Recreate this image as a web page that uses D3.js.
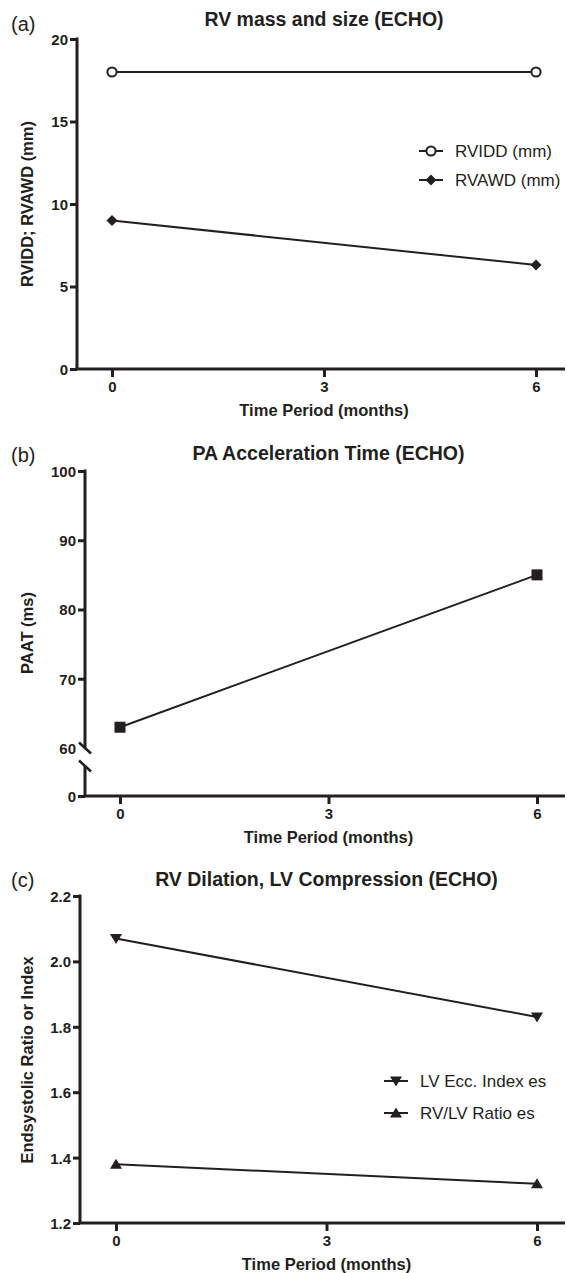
<!DOCTYPE html>
<html>
<head>
<meta charset="utf-8">
<script src="https://cdn.jsdelivr.net/npm/d3@7"></script>
<style>
  html, body { margin: 0; padding: 0; background: #fff; }
  svg { display: block; font-family: "Liberation Sans", Arial, Helvetica, sans-serif; }
</style>
</head>
<body>
<svg id="chart" width="567" height="1273"></svg>
<script>
// ---------- DATA ----------
const months = [0, 6];
const xTicks = [0, 3, 6];

// Panel (a)
const rviddValues = [18, 18];
const rvawdValues = [9.0, 6.3];
const aYTicks = [0, 5, 10, 15, 20];

// Panel (b)
const paatValues = [63, 85];
const bYTicks = [0, 60, 70, 80, 90, 100];

// Panel (c)
const lvEccValues = [2.07, 1.83];
const rvlvValues = [1.38, 1.32];
const cYTicks = [1.2, 1.4, 1.6, 1.8, 2.0, 2.2];

// ---------- STYLE ----------
const INK = "#231f20";
const svg = d3.select("#chart");

// marker shape generators (relative to point)
function marker(g, type, x, y) {
  if (type === "circle") {
    g.append("circle").attr("cx", x).attr("cy", y).attr("r", 4.6)
      .attr("fill", "#fff").attr("stroke", INK).attr("stroke-width", 2);
  } else if (type === "diamond") {
    const s = 5.5;
    g.append("path").attr("d", `M${x},${y - s}L${x + s},${y}L${x},${y + s}L${x - s},${y}Z`).attr("fill", INK);
  } else if (type === "square") {
    const s = 5.5;
    g.append("rect").attr("x", x - s).attr("y", y - s).attr("width", 2 * s).attr("height", 2 * s).attr("fill", INK);
  } else if (type === "tri-down") {
    g.append("path").attr("d", `M${x - 6},${y - 4.5}L${x + 6},${y - 4.5}L${x},${y + 5.5}Z`).attr("fill", INK);
  } else if (type === "tri-up") {
    g.append("path").attr("d", `M${x - 6},${y + 4.5}L${x + 6},${y + 4.5}L${x},${y - 5.5}Z`).attr("fill", INK);
  }
}

function panel(cfg) {
  const g = svg.append("g");
  const x = d3.scaleLinear().domain([0, 6]).range([cfg.x0, cfg.x6]);
  const y = cfg.y;
  const axisY = cfg.axisBottom;

  // panel letter
  g.append("text").attr("x", 11).attr("y", cfg.letterY).attr("font-size", 20).attr("fill", INK).text(cfg.letter);
  // title
  g.append("text").attr("x", x(3)).attr("y", cfg.titleY).attr("text-anchor", "middle")
    .attr("font-size", 19.5).attr("font-weight", "bold").attr("fill", INK).text(cfg.title);

  // x axis
  const xAxis = d3.axisBottom(x).tickValues(xTicks).tickSize(8).tickPadding(4).tickFormat(d3.format("d"));
  const gx = g.append("g").attr("transform", `translate(0,${axisY})`).call(xAxis);
  gx.select(".domain").remove();
  gx.selectAll(".tick line").attr("stroke", INK).attr("stroke-width", 3);
  gx.selectAll(".tick text").attr("font-size", 15).attr("font-weight", "bold").attr("fill", INK).attr("font-family", "Liberation Sans, Arial, sans-serif");
  g.append("line").attr("x1", cfg.left - 1.5).attr("x2", 565).attr("y1", axisY).attr("y2", axisY)
    .attr("stroke", INK).attr("stroke-width", 3);

  // y axis
  const yAxis = d3.axisLeft(y).tickValues(cfg.yTicks).tickSize(7).tickPadding(2).tickFormat(cfg.yFormat);
  const gy = g.append("g").attr("transform", `translate(${cfg.left},0)`).call(yAxis);
  gy.select(".domain").remove();
  gy.selectAll(".tick line").attr("stroke", INK).attr("stroke-width", 3);
  gy.selectAll(".tick text").attr("font-size", 15).attr("font-weight", "bold").attr("fill", INK).attr("dy", "0.36em").attr("font-family", "Liberation Sans, Arial, sans-serif");
  if (cfg.hideTick) gy.selectAll(".tick").filter(d => cfg.hideTick.includes(d)).select("line").remove();

  const yTop = y(cfg.yTicks[cfg.yTicks.length - 1]);
  if (cfg.brk) {
    g.append("line").attr("x1", cfg.left).attr("x2", cfg.left).attr("y1", yTop - 1.5).attr("y2", cfg.brk[0])
      .attr("stroke", INK).attr("stroke-width", 3);
    g.append("line").attr("x1", cfg.left).attr("x2", cfg.left).attr("y1", cfg.brk[1]).attr("y2", axisY)
      .attr("stroke", INK).attr("stroke-width", 3);
    [cfg.brk[0], cfg.brk[1]].forEach(cy => {
      g.append("line").attr("x1", cfg.left - 6).attr("y1", cy - 5.5).attr("x2", cfg.left + 6).attr("y2", cy + 5.5)
        .attr("stroke", INK).attr("stroke-width", 2.6);
    });
  } else {
    g.append("line").attr("x1", cfg.left).attr("x2", cfg.left).attr("y1", yTop - 1.5).attr("y2", axisY)
      .attr("stroke", INK).attr("stroke-width", 3);
  }

  // axis titles
  g.append("text").attr("x", x(3)).attr("y", axisY + 47).attr("text-anchor", "middle")
    .attr("font-size", 16.5).attr("font-weight", "bold").attr("fill", INK).text("Time Period (months)");
  g.append("text").attr("transform", `translate(33,${cfg.yLabelCenter}) rotate(-90)`).attr("text-anchor", "middle")
    .attr("font-size", 16.5).attr("font-weight", "bold").attr("fill", INK).text(cfg.yLabel);

  // series
  const line = d3.line().x((d, i) => x(months[i])).y(d => y(d));
  cfg.series.forEach(s => {
    g.append("path").datum(s.values).attr("d", line).attr("fill", "none")
      .attr("stroke", INK).attr("stroke-width", 2);
    s.values.forEach((v, i) => marker(g, s.marker, x(months[i]), y(v)));
  });

  // legend
  if (cfg.legend) {
    const L = cfg.legend;
    cfg.series.forEach((s, i) => {
      const cy = L.y0 + i * L.dy;
      g.append("line").attr("x1", L.x - 12).attr("x2", L.x + 12).attr("y1", cy).attr("y2", cy)
        .attr("stroke", INK).attr("stroke-width", 2);
      marker(g, s.marker, L.x, cy);
      g.append("text").attr("x", L.tx).attr("y", cy + 6).attr("font-size", 17).attr("fill", INK).text(s.name);
    });
  }
}

// Panel (a)
panel({
  letter: "(a)", letterY: 31, title: "RV mass and size (ECHO)", titleY: 26,
  left: 77, x0: 112, x6: 536, axisBottom: 369,
  y: d3.scaleLinear().domain([0, 20]).range([369, 39]),
  yTicks: aYTicks, yFormat: d3.format("d"),
  yLabel: "RVIDD; RVAWD (mm)", yLabelCenter: 204,
  series: [
    { name: "RVIDD (mm)", values: rviddValues, marker: "circle" },
    { name: "RVAWD (mm)", values: rvawdValues, marker: "diamond" }
  ],
  legend: { x: 431, tx: 455, y0: 151, dy: 29 }
});

// Panel (b) — broken axis: 0 at baseline, 60–100 above break
panel({
  letter: "(b)", letterY: 462, title: "PA Acceleration Time (ECHO)", titleY: 460,
  left: 85, x0: 120, x6: 537, axisBottom: 796,
  y: d3.scaleLinear().domain([0, 60, 100]).range([796, 748, 471]),
  yTicks: bYTicks, yFormat: d3.format("d"), hideTick: [60],
  brk: [748, 766],
  yLabel: "PAAT (ms)", yLabelCenter: 633,
  series: [
    { name: "PAAT", values: paatValues, marker: "square" }
  ]
});

// Panel (c)
panel({
  letter: "(c)", letterY: 887, title: "RV Dilation, LV Compression (ECHO)", titleY: 886,
  left: 80, x0: 116, x6: 537, axisBottom: 1223,
  y: d3.scaleLinear().domain([1.2, 2.2]).range([1223, 896]),
  yTicks: cYTicks, yFormat: d3.format(".1f"),
  yLabel: "Endsystolic Ratio or Index", yLabelCenter: 1060,
  series: [
    { name: "LV Ecc. Index es", values: lvEccValues, marker: "tri-down" },
    { name: "RV/LV Ratio es", values: rvlvValues, marker: "tri-up" }
  ],
  legend: { x: 396, tx: 420, y0: 1081, dy: 32 }
});
</script>
</body>
</html>
